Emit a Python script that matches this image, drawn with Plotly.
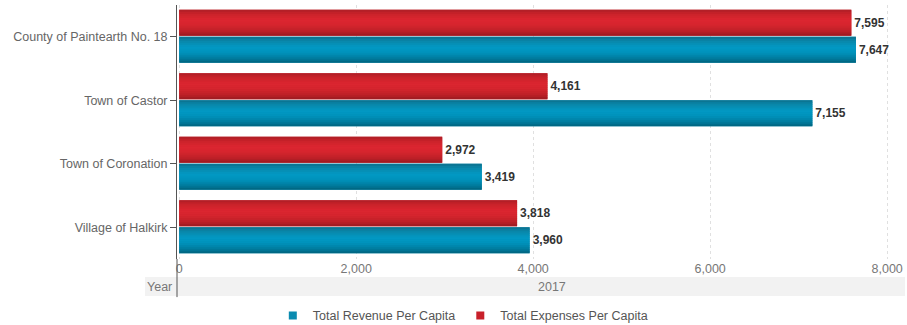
import plotly.graph_objects as go

# Data
municipalities = [
    "County of Paintearth No. 18",
    "Town of Castor",
    "Town of Coronation",
    "Village of Halkirk",
]
revenue_per_capita = [7647, 7155, 3419, 3960]
expenses_per_capita = [7595, 4161, 2972, 3818]
x_ticks = [0, 2000, 4000, 6000, 8000]
year_label = "2017"

FONT = "Liberation Sans, Arial, sans-serif"

# Shading profiles (top -> bottom) giving the bars a rounded, glossy look
RED_STOPS = [(0.0, (172, 30, 38)), (0.15, (200, 34, 42)), (0.38, (220, 38, 48)),
             (0.6, (213, 37, 46)), (0.85, (186, 31, 39)), (1.0, (152, 26, 32))]
BLUE_STOPS = [(0.0, (11, 111, 140)), (0.15, (10, 134, 168)), (0.4, (2, 153, 196)),
              (0.62, (0, 146, 187)), (0.86, (0, 120, 154)), (1.0, (0, 98, 124))]


def shade(stops, t):
    for (t0, c0), (t1, c1) in zip(stops, stops[1:]):
        if t0 <= t <= t1:
            f = (t - t0) / (t1 - t0) if t1 > t0 else 0
            return "rgb(%d,%d,%d)" % tuple(round(a + (b - a) * f) for a, b in zip(c0, c1))
    return "rgb(%d,%d,%d)" % stops[-1][1]


BAR_W = 0.41
N_STRIPES = 13

fig = go.Figure()


def add_series(name, values, offset, base_color, stops):
    # Main bar carrying the value label
    fig.add_trace(go.Bar(
        y=municipalities, x=values, orientation="h", name=name,
        marker=dict(color=base_color, line=dict(width=0)),
        offset=offset, width=BAR_W,
        texttemplate="%{x:,}", textposition="outside",
        textfont=dict(family=FONT, size=12, color="#333333", weight="bold"),
        cliponaxis=False, hoverinfo="x+name", showlegend=False,
    ))
    # Shading stripes drawn over the main bar
    step = BAR_W / N_STRIPES
    for i in range(N_STRIPES):
        t = (i + 0.5) / N_STRIPES
        fig.add_trace(go.Bar(
            y=municipalities, x=values, orientation="h",
            marker=dict(color=shade(stops, t), line=dict(width=0)),
            offset=offset + i * step, width=step * 1.25 if i < N_STRIPES - 1 else step,
            showlegend=False, hoverinfo="skip",
        ))


add_series("Total Expenses Per Capita", expenses_per_capita, -0.425, "#c8202a", RED_STOPS)
add_series("Total Revenue Per Capita", revenue_per_capita, 0.0, "#0a8bb0", BLUE_STOPS)

# Legend entries with small square swatches
for name, color in [("Total Revenue Per Capita", "#0a8bb0"),
                    ("Total Expenses Per Capita", "#c8202a")]:
    fig.add_trace(go.Scatter(
        x=[None], y=[None], mode="markers", name=name,
        marker=dict(symbol="square", size=8, color=color),
    ))

fig.update_layout(
    width=907, height=325,
    margin=dict(l=177, r=11, t=5, b=66, autoexpand=False),
    paper_bgcolor="white", plot_bgcolor="white",
    barmode="overlay",
    font=dict(family=FONT, size=12.5, color="#666666"),
    showlegend=True,
    legend=dict(
        orientation="h", x=0.3975, xanchor="center", y=-0.224, yanchor="middle",
        font=dict(family=FONT, size=12.5, color="#555555"),
        itemwidth=30, tracegroupgap=0,
    ),
    xaxis=dict(
        range=[-25, 8100], tickvals=x_ticks, tickformat=",",
        showgrid=True, gridcolor="#e0e0e0", griddash="dot", gridwidth=1,
        zeroline=False, showline=False, ticks="",
        tickfont=dict(family=FONT, size=12.5, color="#777777"),
    ),
    yaxis=dict(
        autorange=False, range=[3.5, -0.5], categoryorder="array",
        categoryarray=municipalities,
        showgrid=False, zeroline=False, showline=True, linecolor="#555555",
        ticks="outside", ticklen=6, tickcolor="#555555",
        tickfont=dict(family=FONT, size=12.5, color="#666666"),
    ),
    shapes=[
        # Year band under the value axis
        dict(type="rect", xref="paper", yref="paper",
             x0=-0.0445, x1=1.0125, y0=-0.1457, y1=-0.0709,
             fillcolor="#f2f2f2", line=dict(width=0), layer="below"),
        # Category axis line continued through the band
        dict(type="line", xref="paper", yref="paper",
             x0=0, x1=0, y0=-0.15, y1=0,
             line=dict(color="#555555", width=1)),
    ],
    annotations=[
        dict(text="Year", xref="paper", yref="paper", x=-0.004, y=-0.110,
             xanchor="right", yanchor="middle", showarrow=False,
             font=dict(family=FONT, size=12.5, color="#777777")),
        dict(text=year_label, xref="paper", yref="paper", x=0.5216, y=-0.110,
             xanchor="center", yanchor="middle", showarrow=False,
             font=dict(family=FONT, size=12.5, color="#777777")),
    ],
)

fig.write_html("out.html")
